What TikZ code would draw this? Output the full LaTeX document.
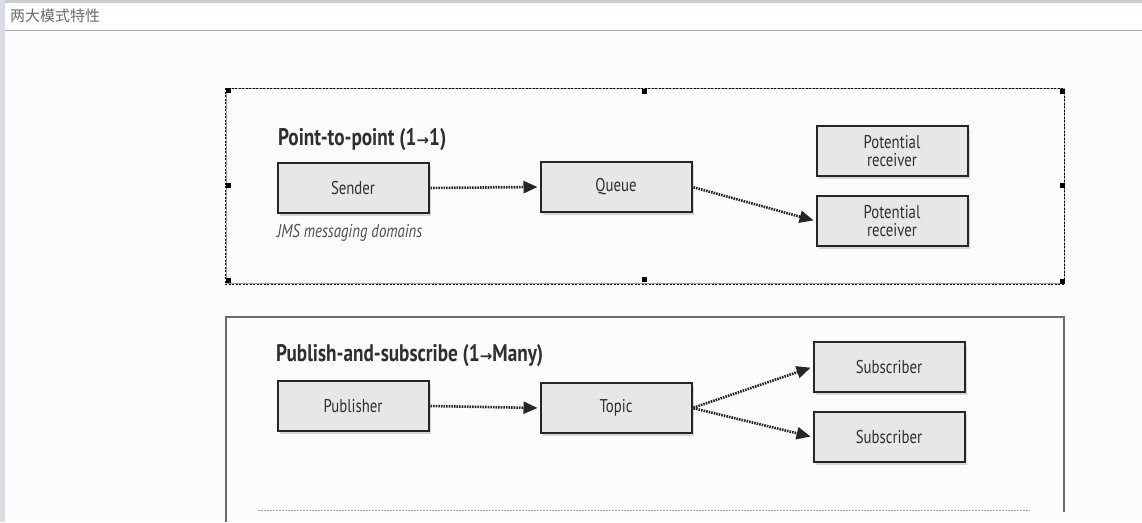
\documentclass[tikz,border=0pt]{standalone}
\usepackage{fontspec}
\setmainfont[FakeStretch=0.8]{PT Sans}
\newfontfamily\cjk{Noto Sans CJK SC}
\newfontfamily\arrowfont{DejaVu Sans}
\usetikzlibrary{arrows.meta,shadows}
\definecolor{boxfill}{HTML}{E7E6E9}
\definecolor{boxline}{HTML}{262626}
\definecolor{txt}{HTML}{332E2E}
\definecolor{frame}{HTML}{C9CDD6}
\newcommand{\rarr}{{\arrowfont\bfseries\fontsize{15}{15}\selectfont →}}
\tikzset{
  box/.style={draw=boxline, line width=2pt, fill=boxfill, minimum width=151pt, minimum height=50pt,
    inner sep=0pt, align=center, font=\fontsize{18.5}{19}\selectfont, text=txt,
    drop shadow={opacity=0.3, shadow xshift=2.5pt, shadow yshift=-3pt}},
  msg/.style={draw=boxline, line width=2.6pt, dash pattern=on 1.6pt off 1pt,
    -{Triangle[length=14pt,width=12pt]}, shorten >=2pt, shorten <=1pt},
  heading/.style={anchor=west, font=\bfseries\fontsize{24}{26}\selectfont, text=txt, inner sep=0pt},
  handle/.style={fill=black, minimum size=5pt, inner sep=0pt},
}
\begin{document}
\begin{tikzpicture}[x=1pt,y=-1pt]
\useasboundingbox (0,0) rectangle (1142,522);
% window chrome
\fill[white!99!black] (0,0) rectangle (1142,522);
\fill[frame] (0,0) rectangle (1142,3);
\fill[frame!70] (0,0) rectangle (5,522);
\fill[white] (5,3) rectangle (1142,30);
\draw[gray!70, line width=1pt] (5,30) -- (1142,30);
\node[anchor=west, inner sep=0pt, text=gray!85!black, font=\cjk\fontsize{15}{17}\selectfont] (wtitle) at (10,16) {两大模式特性};
% top figure frame
\draw[gray!80, line width=1pt] (226,88) rectangle (1064,283);
\draw[black, line width=1pt, dash pattern=on 2pt off 1.5pt] (225,88) rectangle (1064,284);
\foreach \x/\y in {228/90, 644/91, 1062/91, 228/185, 1062/185, 228/280, 644/279, 1062/281}
  \node[handle] at (\x,\y) {};
% top content
\node[heading] (t1) at (278,140) {Point-to-point (1\rarr1)};
\node[box] (sender) at (353,188) {Sender};
\node[box] (queue) at (616,187) {Queue};
\node[box] (pr1) at (892,151) {Potential\\[-1pt]receiver};
\node[box] (pr2) at (892,221) {Potential\\[-1pt]receiver};
\node[anchor=west, inner sep=0pt, font=\itshape\fontsize{18.5}{20}\selectfont, text=txt!85] (jms) at (277,233) {JMS messaging domains};
\draw[msg] (sender.east) -- (queue.west);
\draw[msg] (queue.east) -- (pr2.west);
% bottom figure frame
\draw[gray!85!black, line width=1.2pt] (226,522) -- (226,317) -- (1064,317) -- (1064,512);
\draw[gray!70, line width=1pt, dash pattern=on 2pt off 1pt] (258,510) -- (1030,510);
% bottom content
\node[heading] (t2) at (276,356) {Publish-and-subscribe (1\rarr Many)};
\node[box] (pub) at (353,406) {Publisher};
\node[box] (topic) at (616,408) {Topic};
\node[box] (sub1) at (889,367) {Subscriber};
\node[box] (sub2) at (889,437) {Subscriber};
\draw[msg] (pub.east) -- (topic.west);
\draw[msg] (topic.east) -- (sub1.west);
\draw[msg] (topic.east) -- (sub2.west);
\end{tikzpicture}
\end{document}
